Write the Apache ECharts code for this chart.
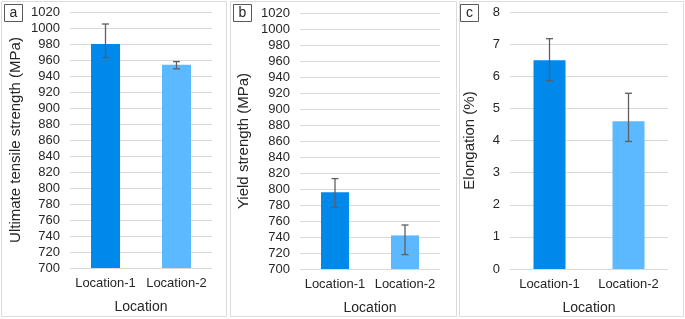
<!DOCTYPE html>
<html>
<head>
<meta charset="utf-8">
<script src="https://cdn.jsdelivr.net/npm/echarts@6.0.0/dist/echarts.min.js"></script>
<style>
  html, body { margin: 0; padding: 0; background: #fff; }
  #main { width: 685px; height: 319px; }
</style>
</head>
<body>
<div id="main"></div>
<script>
// data
var categories = ['Location-1', 'Location-2'];
var utsMean = [980, 954];
var utsLow = [963, 949];
var utsHigh = [1005, 958];
var ysMean = [796, 742];
var ysLow = [777, 718];
var ysHigh = [813, 755];
var elMean = [6.5, 4.6];
var elLow = [5.86, 3.97];
var elHigh = [7.17, 5.47];
var barColors = ['#0088eb', '#5cb8ff'];

var font = 'Liberation Sans, Arial, sans-serif';
var textColor = '#262626';

var myChart = echarts.init(document.getElementById('main'));

function barData(vals) {
    return vals.map(function (v, i) {
        return { value: v, itemStyle: { color: barColors[i] } };
    });
}
function errData(lo, hi) {
    return lo.map(function (v, i) { return [i, v, hi[i]]; });
}
function renderErr(params, api) {
    var x = api.value(0);
    var p1 = api.coord([x, api.value(1)]);
    var p2 = api.coord([x, api.value(2)]);
    var h = 3.5;
    var st = { stroke: '#5f5f5f', lineWidth: 1.3 };
    return {
        type: 'group',
        children: [
            { type: 'line', shape: { x1: p1[0], y1: p1[1], x2: p2[0], y2: p2[1] }, style: st },
            { type: 'line', shape: { x1: p1[0] - h, y1: p1[1], x2: p1[0] + h, y2: p1[1] }, style: st },
            { type: 'line', shape: { x1: p2[0] - h, y1: p2[1], x2: p2[0] + h, y2: p2[1] }, style: st }
        ]
    };
}

var grids = [
    { left: 70, top: 12, width: 142, height: 256, outerBoundsMode: 'none' },
    { left: 300, top: 13, width: 140, height: 256, outerBoundsMode: 'none' },
    { left: 510, top: 12, width: 158, height: 257, outerBoundsMode: 'none' }
];
var yNames = ['Ultimate tensile strength (MPa)', 'Yield strength (MPa)', 'Elongation (%)'];
var yGaps = [47, 49, 33];
var yMin = [700, 700, 0], yMax = [1020, 1020, 8], yStep = [20, 20, 1];
var barW = [29, 28, 32];
var means = [utsMean, ysMean, elMean];
var lows = [utsLow, ysLow, elLow];
var highs = [utsHigh, ysHigh, elHigh];

var xAxes = [], yAxes = [], series = [];
for (var k = 0; k < 3; k++) {
    xAxes.push({
        type: 'category', gridIndex: k, data: categories,
        name: 'Location', nameLocation: 'middle', nameGap: 32,
        nameTextStyle: { fontFamily: font, fontSize: 14, color: textColor },
        axisLine: { show: false }, axisTick: { show: false },
        axisLabel: { interval: 0, fontFamily: font, fontSize: 13, color: textColor, margin: 9 }
    });
    yAxes.push({
        type: 'value', gridIndex: k, min: yMin[k], max: yMax[k], interval: yStep[k],
        name: yNames[k], nameLocation: 'middle', nameGap: yGaps[k],
        nameTextStyle: { fontFamily: font, fontSize: 15, color: textColor },
        axisLine: { show: false }, axisTick: { show: false },
        axisLabel: {
            fontFamily: font, fontSize: 13, color: textColor, margin: 10,
            formatter: function (v) { return String(v); }
        },
        splitLine: { lineStyle: { color: '#d9d9d9', width: 1 } }
    });
    series.push({
        type: 'bar', xAxisIndex: k, yAxisIndex: k, barWidth: barW[k],
        data: barData(means[k]), silent: true
    });
    series.push({
        type: 'custom', xAxisIndex: k, yAxisIndex: k, renderItem: renderErr,
        data: errData(lows[k], highs[k]), encode: { x: 0, y: [1, 2] }, z: 5, silent: true
    });
}

var panels = [[1, 226], [230, 456], [459, 683]];
var letters = ['a', 'b', 'c'];
var boxX = [4, 233, 460];
var graphic = [];
panels.forEach(function (p) {
    graphic.push({
        type: 'rect', shape: { x: p[0] + 0.5, y: 1.5, width: p[1] - p[0], height: 315 },
        style: { fill: 'none', stroke: '#dcdcdc', lineWidth: 1 }, silent: true
    });
});
letters.forEach(function (l, i) {
    graphic.push({
        type: 'rect', shape: { x: boxX[i] + 0.5, y: 4.5, width: 18, height: 17 },
        style: { fill: '#fff', stroke: '#595959', lineWidth: 1 }, silent: true
    });
    graphic.push({
        type: 'text', x: boxX[i] + 9.5, y: 13.5,
        style: { text: l, fontFamily: font, fontSize: 14, fill: textColor, align: 'center', verticalAlign: 'middle' },
        silent: true
    });
});

var option = {
    animation: false,
    grid: grids,
    xAxis: xAxes,
    yAxis: yAxes,
    series: series,
    graphic: graphic
};
myChart.setOption(option);
</script>
</body>
</html>
